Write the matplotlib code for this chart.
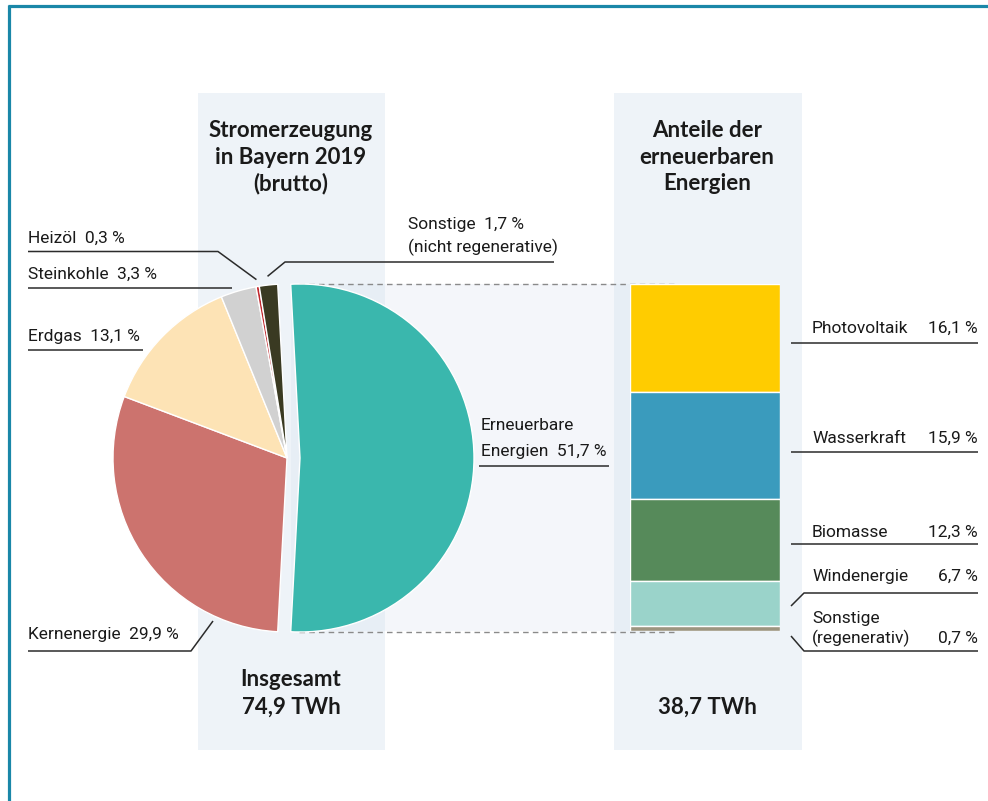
import numpy as np
import matplotlib
matplotlib.use("Agg")
import matplotlib.pyplot as plt
from matplotlib.patches import Rectangle

# === Data ===
pie_labels = ["Erneuerbare Energien", "Kernenergie", "Erdgas", "Steinkohle", "Heizöl",
              "Sonstige (nicht regenerative)"]
pie_values = [51.7, 29.9, 13.1, 3.3, 0.3, 1.7]
pie_colors = ["#3ab7ad", "#cc736e", "#fde3b5", "#d1d1d1", "#c1272d", "#3a3a22"]

bar_labels = ["Photovoltaik", "Wasserkraft", "Biomasse", "Windenergie", "Sonstige (regenerativ)"]
bar_values = [16.1, 15.9, 12.3, 6.7, 0.7]
bar_colors = ["#ffcc00", "#3a9bbd", "#568a5a", "#9ad3ca", "#9c9580"]

total_all = "74,9 TWh"
total_ren = "38,7 TWh"

# === Layout (pixels) ===
W, H = 988, 801
PIE_CX, PIE_CY, PIE_R = 287, 458, 174
BAR_X0, BAR_X1, BAR_TOP, BAR_BOT = 630, 780, 284, 631
PANEL_BG = "#eef3f8"
TXT = "#1a1a1a"
LINE = "#2b2b2b"
NARROW = ["Roboto", "DejaVu Sans"]
BOLD = ["Lato", "DejaVu Sans"]


def fmt(v):
    return f"{v:.1f}".replace(".", ",") + " %"


fig = plt.figure(figsize=(W / 100, H / 100), dpi=100)
fig.patch.set_facecolor("white")

# background axes in pixel coordinates (y grows downwards)
bg = fig.add_axes([0, 0, 1, 1])
bg.set_xlim(0, W)
bg.set_ylim(H, 0)
bg.axis("off")

# frame
bg.plot([8.5, 8.5], [5, H], color="#1a87a8", lw=2.3, solid_capstyle="butt")
bg.plot([7.5, W], [5.5, 5.5], color="#1a87a8", lw=2.3, solid_capstyle="butt")

# grey column panels
for x0, x1 in [(198, 385), (614, 802)]:
    bg.add_patch(Rectangle((x0, 93), x1 - x0, 750 - 93, facecolor=PANEL_BG, edgecolor="none", zorder=0))

# === Pie ===
half = 200
ax_pie = fig.add_axes([(PIE_CX - half) / W, (H - PIE_CY - half) / H, 2 * half / W, 2 * half / H])
ren_angle = pie_values[0] / sum(pie_values) * 360
wedges, _ = ax_pie.pie(pie_values, colors=pie_colors, startangle=ren_angle / 2,
                       counterclock=False, explode=[13 / PIE_R, 0, 0, 0, 0, 0],
                       wedgeprops=dict(edgecolor="white", linewidth=1))
lim = half / PIE_R
ax_pie.set_xlim(-lim, lim)
ax_pie.set_ylim(-lim, lim)
ax_pie.axis("off")
ax_pie.patch.set_alpha(0)


def to_bg(ax, x, y):
    p = ax.transData.transform((x, y))
    return bg.transData.inverted().transform(p)


def wedge_point(w, r, ang=None):
    if ang is None:
        ang = (w.theta1 + w.theta2) / 2
    a = np.deg2rad(ang)
    cx, cy = w.center
    return to_bg(ax_pie, cx + r * np.cos(a), cy + r * np.sin(a))


# === Stacked bar ===
ax_bar = fig.add_axes([BAR_X0 / W, (H - BAR_BOT) / H, (BAR_X1 - BAR_X0) / W, (BAR_BOT - BAR_TOP) / H])
bottoms = np.concatenate([[0], np.cumsum(bar_values)[:-1]])
ax_bar.bar([0.5] * len(bar_values), bar_values, bottom=bottoms, width=1, color=bar_colors,
           edgecolor="white", linewidth=1)
ax_bar.set_xlim(0, 1)
ax_bar.set_ylim(sum(bar_values), 0)
ax_bar.axis("off")

# connecting band + dashed lines between pie slice and bar
top_pt = wedge_point(wedges[0], 1, max(wedges[0].theta1, wedges[0].theta2))
bot_pt = wedge_point(wedges[0], 1, min(wedges[0].theta1, wedges[0].theta2))
bg.add_patch(Rectangle((top_pt[0], BAR_TOP), BAR_X0 - top_pt[0], BAR_BOT - BAR_TOP,
                       facecolor="#d8e2f0", alpha=0.28, edgecolor="none", zorder=1))
for yy in (BAR_TOP - 0.5, BAR_BOT + 1):
    bg.plot([top_pt[0] + 8, 678], [yy, yy], color="#8a8a8a", lw=1, ls=(0, (4, 3)), zorder=2)


# === Text helpers ===
def label(x, y, s, ha="left", size=12.5):
    bg.text(x, y, s, ha=ha, va="baseline", fontsize=size, family=NARROW, color=TXT, zorder=5)


def bold(x, y, s):
    bg.text(x, y, s, ha="center", va="baseline", fontsize=16, family=BOLD, weight="bold",
            color=TXT, zorder=5)


def leader(xs, ys):
    bg.plot(xs, ys, color=LINE, lw=1.1, zorder=4, solid_capstyle="butt")


# titles
for i, line in enumerate(["Stromerzeugung", "in Bayern 2019", "(brutto)"]):
    bold(291, 137 + 26.5 * i, line)
for i, line in enumerate(["Anteile der", "erneuerbaren", "Energien"]):
    bold(707, 137 + 26.5 * i, line)
bold(291, 686, "Insgesamt")
bold(291, 714, total_all)
bold(707, 714, total_ren)

# pie labels (left side)
label(28, 243, f"Heizöl  {fmt(pie_values[4])}")
p = wedge_point(wedges[4], 1.04)
leader([28, 218, p[0]], [251.5, 251.5, p[1]])

label(28, 279, f"Steinkohle  {fmt(pie_values[3])}")
leader([28, 232], [288, 288])

label(28, 341, f"Erdgas  {fmt(pie_values[2])}")
leader([28, 143], [350, 350])

label(28, 639, f"Kernenergie  {fmt(pie_values[1])}")
leader([28, 191, 213], [651, 651, 621])

label(408, 229, f"Sonstige  {fmt(pie_values[5])}")
label(408, 252, "(nicht regenerative)")
p = wedge_point(wedges[5], 1.05)
leader([554, 285, p[0]], [262, 262, p[1]])

label(481, 430, "Erneuerbare")
label(481, 456, f"Energien  {fmt(pie_values[0])}")
leader([479, 609], [465.5, 465.5])

# bar labels (right side)
rows = [(333, 343), (443, 452), (537, 544)]
for (base, under), name, v in zip(rows, bar_labels[:3], bar_values[:3]):
    label(812, base, name)
    label(978, base, fmt(v), ha="right")
    leader([791, 978], [under, under])

label(812, 581, bar_labels[3])
label(978, 581, fmt(bar_values[3]), ha="right")
leader([791, 804, 978], [606, 593, 593])

label(812, 623, "Sonstige")
label(812, 643, "(regenerativ)")
label(978, 643, fmt(bar_values[4]), ha="right")
leader([791, 804, 978], [636, 651, 651])

fig.savefig("out.png", dpi=100, facecolor="white")
